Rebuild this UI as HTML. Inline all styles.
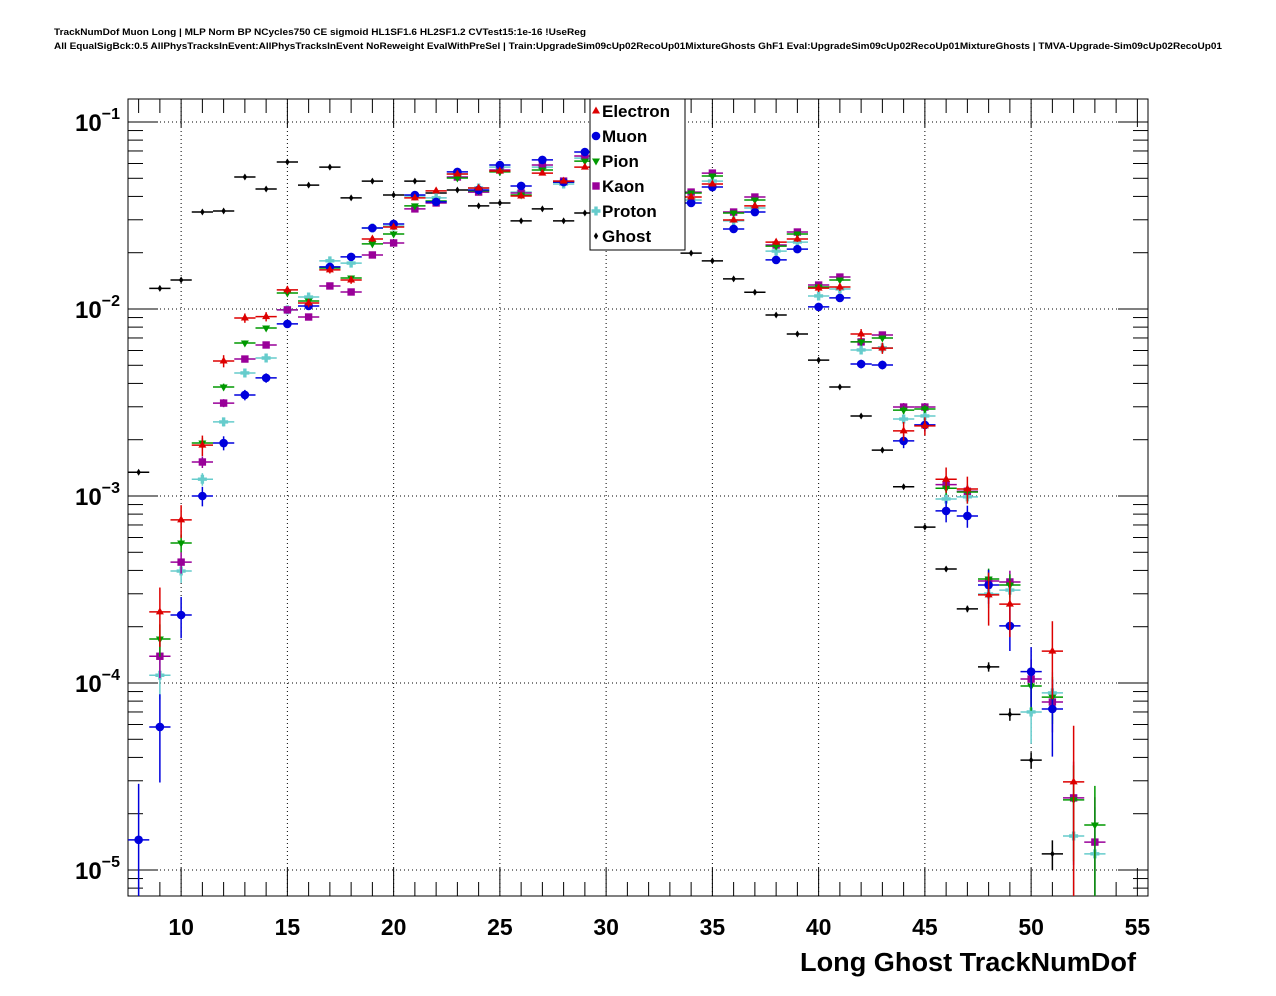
<!DOCTYPE html>
<html><head><meta charset="utf-8"><style>
html,body{margin:0;padding:0;background:#fff;}
svg{display:block;font-family:"Liberation Sans",Arial,sans-serif;}
</style></head><body>
<svg id="chart" width="1276" height="996" viewBox="0 0 1276 996" xmlns="http://www.w3.org/2000/svg">
<rect x="0" y="0" width="1276" height="996" fill="#fff"/>
<text x="54" y="35" font-size="9" font-weight="bold" textLength="532" lengthAdjust="spacingAndGlyphs">TrackNumDof Muon Long | MLP Norm BP NCycles750 CE sigmoid HL1SF1.6 HL2SF1.2 CVTest15:1e-16 !UseReg</text>
<text x="54" y="49" font-size="9" font-weight="bold" textLength="1168" lengthAdjust="spacingAndGlyphs">All EqualSigBck:0.5 AllPhysTracksInEvent:AllPhysTracksInEvent NoReweight EvalWithPreSel | Train:UpgradeSim09cUp02RecoUp01MixtureGhosts GhF1 Eval:UpgradeSim09cUp02RecoUp01MixtureGhosts | TMVA-Upgrade-Sim09cUp02RecoUp01</text>
<g id="grid"></g>
<g id="axes"></g>
<g id="marks"></g>
<g id="legend"></g>
<text x="1136" y="971" font-size="25.5" font-weight="bold" text-anchor="end" textLength="336" lengthAdjust="spacingAndGlyphs">Long Ghost TrackNumDof</text>
</svg>
<script>
const xValues=[8,9,10,11,12,13,14,15,16,17,18,19,20,21,22,23,24,25,26,27,28,29,30,31,32,33,34,35,36,37,38,39,40,41,42,43,44,45,46,47,48,49,50,51,52,53];
const electron=[null,2.40e-4,7.45e-4,1.87e-3,5.27e-3,8.95e-3,9.1e-3,0.01265,0.01077,0.01618,0.01429,0.02366,0.02746,0.03926,0.0428,0.0527,0.0444,0.0547,0.0402,0.0533,0.0483,0.0574,0.062,0.058,0.052,0.046,0.0397,0.0466,0.0299,0.0356,0.0228,0.02366,0.01294,0.01312,7.35e-3,6.18e-3,2.23e-3,2.37e-3,1.23e-3,1.09e-3,2.96e-4,2.64e-4,null,1.48e-4,2.96e-5,null];
const muon=[1.45e-5,5.82e-5,2.31e-4,1.0e-3,1.92e-3,3.47e-3,4.28e-3,8.32e-3,0.01038,0.0168,0.0190,0.0271,0.0285,0.0407,0.0374,0.0541,0.0433,0.0589,0.0455,0.0627,0.0477,0.0691,0.072,0.068,0.058,0.045,0.0369,0.0449,0.0268,0.0330,0.0183,0.0209,0.01026,0.01146,5.08e-3,5.02e-3,1.97e-3,2.40e-3,8.32e-4,7.82e-4,3.34e-4,2.02e-4,1.15e-4,7.26e-5,null,null];
const pion=[null,1.72e-4,5.61e-4,1.92e-3,3.83e-3,6.58e-3,7.91e-3,0.01218,0.01104,0.01656,0.01465,0.0223,0.0252,0.0356,0.0378,0.0502,0.0428,0.0541,0.0407,0.0554,0.0477,0.0618,0.066,0.062,0.055,0.048,0.0417,0.0514,0.0326,0.0383,0.0217,0.0252,0.01312,0.01429,6.67e-3,7.0e-3,2.88e-3,2.92e-3,1.10e-3,1.05e-3,3.6e-4,3.34e-4,9.64e-5,8.41e-5,2.37e-5,1.74e-5];
const kaon=[null,1.39e-4,4.43e-4,1.52e-3,3.14e-3,5.40e-3,6.42e-3,9.89e-3,9.06e-3,0.01328,0.01233,0.01945,0.02255,0.0343,0.0369,0.0508,0.0422,0.0554,0.0417,0.0589,0.0483,0.0658,0.068,0.064,0.056,0.049,0.0422,0.0533,0.0330,0.0397,0.0220,0.0258,0.01343,0.01482,6.67e-3,7.26e-3,2.99e-3,2.99e-3,1.15e-3,1.06e-3,3.51e-4,3.47e-4,1.05e-4,7.91e-5,2.43e-5,1.41e-5];
const proton=[null,1.10e-4,3.97e-4,1.23e-3,2.49e-3,4.55e-3,5.47e-3,9.89e-3,0.01159,0.0181,0.0176,0.0271,0.0278,0.0402,0.0393,0.0527,0.0444,0.0574,0.0422,0.0574,0.0466,0.0641,0.066,0.062,0.054,0.047,0.0383,0.0483,0.0296,0.0347,0.0204,0.0228,0.01174,0.0128,6.04e-3,6.2e-3,2.58e-3,2.68e-3,9.64e-4,9.9e-4,2.99e-4,3.14e-4,7.0e-5,8.85e-5,1.52e-5,1.22e-5];
const ghost=[1.34e-3,0.0129,0.0143,0.0330,0.0334,0.0508,0.0438,0.0611,0.0460,0.0574,0.0393,0.0483,0.0407,0.0483,0.0417,0.0433,0.0356,0.0369,0.0296,0.0343,0.0296,0.0326,0.031,0.029,0.026,0.023,0.0199,0.0181,0.0145,0.0123,0.00929,0.00735,0.00533,0.00383,0.00268,0.00176,0.00112,6.82e-4,4.07e-4,2.49e-4,1.22e-4,6.8e-5,3.87e-5,1.22e-5,null,null];
const xTicks=[10,15,20,25,30,35,40,45,50,55];
const yDecades=[-5,-4,-3,-2,-1];
const seriesNames=["Electron","Muon","Pion","Kaon","Proton","Ghost"];

const NS="http://www.w3.org/2000/svg";
const L=128,R=1148,T=99,B=896;
const XMIN=7.5,XMAX=55.5;
const Y0=122,DEC=187;
function xs(v){return L+(v-XMIN)/(XMAX-XMIN)*(R-L);}
function ys(v){return Y0+(-1-Math.log10(v))*DEC;}
function mk(tag,attrs,parent){const e=document.createElementNS(NS,tag);for(const k in attrs)e.setAttribute(k,attrs[k]);parent.appendChild(e);return e;}
const grid=document.getElementById('grid'),axes=document.getElementById('axes'),marks=document.getElementById('marks'),leg=document.getElementById('legend');

xTicks.forEach(t=>{if(t<55){const g=mk('line',{x1:xs(t),x2:xs(t),y1:T,y2:B,stroke:'#000','stroke-width':1,'stroke-dasharray':'1,3'},grid);

}});
yDecades.forEach(d=>{const y=ys(Math.pow(10,d));const g=mk('line',{x1:L,x2:R,y1:y,y2:y,stroke:'#000','stroke-width':1,'stroke-dasharray':'1,3'},grid);

});

const fr=mk('rect',{x:L,y:T,width:R-L,height:B-T,fill:'none',stroke:'#000','stroke-width':1},axes);


for(let v=8;v<=55;v++){const maj=v%5===0;const len=maj?28:14;const x=xs(v);
mk('line',{x1:x,x2:x,y1:B,y2:B-len,stroke:'#000'},axes);
mk('line',{x1:x,x2:x,y1:T,y2:T+len,stroke:'#000'},axes);}
xTicks.forEach(t=>{const tx=mk('text',{x:xs(t),y:935,'font-size':23,'font-weight':'bold','text-anchor':'middle'},axes);tx.textContent=t;

});
for(let d=-6;d<=-1;d++){for(let m=1;m<=9;m++){const v=m*Math.pow(10,d);const y=ys(v);if(y<T||y>B)continue;const len=m===1?30:15;
mk('line',{x1:L,x2:L+len,y1:y,y2:y,stroke:'#000'},axes);
mk('line',{x1:R,x2:R-len,y1:y,y2:y,stroke:'#000'},axes);}}
yDecades.forEach(d=>{const y=ys(Math.pow(10,d));const tx=mk('text',{x:120,y:y+9,'font-size':24,'font-weight':'bold','text-anchor':'end'},axes);


const a=document.createElementNS(NS,'tspan');a.textContent='10';tx.appendChild(a);
const b=document.createElementNS(NS,'tspan');b.setAttribute('dy','-12');b.setAttribute('font-size','16');b.textContent=String(d).replace('-','\u2212');tx.appendChild(b);});

const colors={Electron:'#dd0000',Muon:'#0000dd',Pion:'#009900',Kaon:'#990099',Proton:'#66cccc',Ghost:'#000000'};
const Ns={Electron:34000,Muon:70000,Pion:150000,Kaon:130000,Proton:136000,Ghost:2500000};
function marker(name,x,y,parent){const c=colors[name];let e;
if(name==='Electron')e=mk('polygon',{points:`${x},${y-4.5} ${x-4},${y+2.5} ${x+4},${y+2.5}`,fill:c},parent);
else if(name==='Muon')e=mk('circle',{cx:x,cy:y,r:4.3,fill:c},parent);
else if(name==='Pion')e=mk('polygon',{points:`${x},${y+4.5} ${x-4},${y-2.5} ${x+4},${y-2.5}`,fill:c},parent);
else if(name==='Kaon')e=mk('rect',{x:x-3.7,y:y-3.7,width:7.4,height:7.4,fill:c},parent);
else if(name==='Proton')e=mk('path',{d:`M${x-1.7},${y-4.5}h3.4v2.8h2.8v3.4h-2.8v2.8h-3.4v-2.8h-2.8v-3.4h2.8z`,fill:c},parent);
else e=mk('polygon',{points:`${x},${y-3.5} ${x+2.2},${y} ${x},${y+3.5} ${x-2.2},${y}`,fill:c},parent);
return e;}
const data={Electron:electron,Muon:muon,Pion:pion,Kaon:kaon,Proton:proton,Ghost:ghost};
const order=["Ghost","Proton","Kaon","Pion","Muon","Electron"];
order.forEach(name=>{const g=mk('g',{},marks);


const arr=data[name];const c=colors[name];
xValues.forEach((xv,i)=>{const v=arr[i];if(v==null)return;
const rel=1/Math.sqrt(v*Ns[name]);
const hi=v*(1+rel),lo=v*(1-rel);
const x=xs(xv),y=ys(v);
mk('line',{x1:xs(xv-0.5),x2:xs(xv+0.5),y1:y,y2:y,stroke:c,'stroke-width':1.5},g);
const yl=lo>0?Math.min(ys(lo),B):B;
mk('line',{x1:x,x2:x,y1:Math.max(ys(hi),T),y2:yl,stroke:c,'stroke-width':1.5},g);
const m=marker(name,x,y,g);


});});

const lb=mk('rect',{x:590,y:99,width:95,height:151,fill:'#fff',stroke:'#000','stroke-width':1},leg);


seriesNames.forEach((n,i)=>{const y=111+i*25;const g=mk('g',{},leg);


marker(n,596,y,g);
const t=mk('text',{x:602,y:y+6,'font-size':17,'font-weight':'bold'},g);t.textContent=n;});
</script>
</body></html>
